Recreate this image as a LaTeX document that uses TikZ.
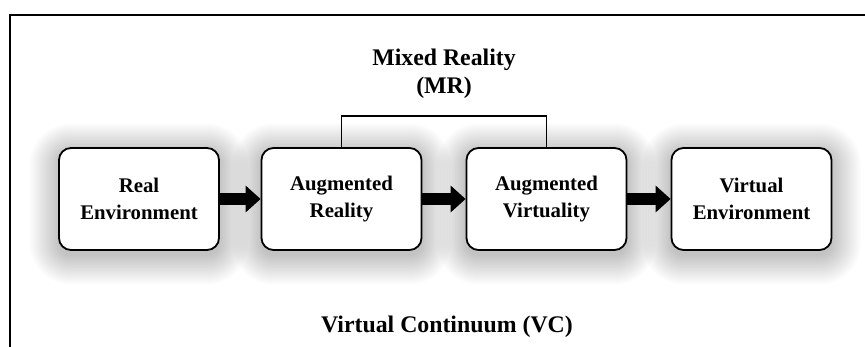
\documentclass[tikz,border=0pt]{standalone}
\usepackage{fontspec}
\setmainfont{Liberation Serif}
\usetikzlibrary{arrows.meta}
\begin{document}
\begin{tikzpicture}[x=1pt,y=-1pt,
  stagebox/.style={draw=black, line width=1.8pt, fill=white, rounded corners=12pt,
    minimum width=160pt, minimum height=102pt, inner sep=0pt, align=center,
    font=\fontsize{20.8}{27}\selectfont\bfseries},
  biglabel/.style={align=center, inner sep=0pt, font=\fontsize{23.8}{28}\selectfont\bfseries},
  fatarrow/.style={line width=12pt, -{Triangle[length=15pt,width=26pt]}},
  framestyle/.style={line width=1.6pt, black},
  bracketstyle/.style={line width=1.6pt, black}]
\useasboundingbox (0,0) rectangle (865,347);
\fill[white] (0,0) rectangle (865,347);

% shadows
\foreach \cx in {139,341.5,546.5,751.5}{
  \foreach \i in {1,2.5,...,30}{
    \fill[black, opacity=0.012, rounded corners={12pt+\i pt}]
      (\cx-80-\i, 148+5-\i) rectangle (\cx+80+\i, 250+5+\i);
  }
}

% frame
\coordinate (fbl) at (10,347);
\coordinate (ftl) at (10,15);
\coordinate (ftr) at (865,15);
\draw[framestyle] (fbl) -- (ftl) -- (ftr);

% boxes
\node[stagebox] (re) at (139,199) {Real\\Environment};
\node[stagebox] (ar) at (341.5,199) {Augmented\\Reality};
\node[stagebox] (av) at (546.5,199) {Augmented\\Virtuality};
\node[stagebox] (ve) at (751.5,199) {Virtual\\Environment};

% arrows
\draw[fatarrow] (re.east) -- (ar.west);
\draw[fatarrow] (ar.east) -- (av.west);
\draw[fatarrow] (av.east) -- (ve.west);

% MR bracket
\draw[bracketstyle] (ar.north) -- ++(0,-31) -| (av.north);

% labels
\node[biglabel] (mr) at (444,74) {Mixed Reality\\(MR)};
\node[biglabel] (vc) at (447,327) {Virtual Continuum (VC)};
\end{tikzpicture}
\end{document}
